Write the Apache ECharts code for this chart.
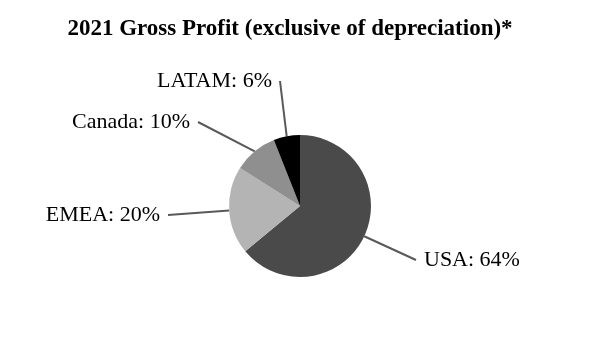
<!DOCTYPE html>
<html>
<head>
<meta charset="utf-8">
<script src="https://cdn.jsdelivr.net/npm/echarts@6/dist/echarts.min.js"></script>
<style>
  html, body { margin: 0; padding: 0; background: #ffffff; }
  #chart { width: 600px; height: 350px; }
</style>
</head>
<body>
<div id="chart"></div>
<script>
// Regional share of 2021 gross profit
const regions = ['USA', 'EMEA', 'Canada', 'LATAM'];
const shares = [64, 20, 10, 6];
const sliceColors = ['#4a4a4a', '#b4b4b4', '#8f8f8f', '#000000'];

// Where each callout label sits (anchor point and text alignment)
const labelSpots = [
  { x: 416, y: 260, align: 'left' },
  { x: 168, y: 215, align: 'right' },
  { x: 198, y: 122, align: 'right' },
  { x: 280, y: 81, align: 'right' }
];
// Radial stub of each leader line before it bends toward its label
const leaderStub = [0, 0, 20, 0];

const chart = echarts.init(document.getElementById('chart'), null, { renderer: 'canvas' });

chart.setOption({
  animation: false,
  backgroundColor: '#ffffff',
  title: {
    text: '2021 Gross Profit (exclusive of depreciation)*',
    left: 285,
    textAlign: 'center',
    top: 13,
    textStyle: {
      fontFamily: 'Liberation Serif',
      fontSize: 23,
      fontWeight: 'bold',
      color: '#000000'
    }
  },
  series: [{
    type: 'pie',
    center: [300, 206],
    radius: 71,
    startAngle: 90,
    clockwise: true,
    data: regions.map((name, i) => ({
      name,
      value: shares[i],
      itemStyle: { color: sliceColors[i] },
      labelLine: { length: leaderStub[i] }
    })),
    label: {
      show: true,
      position: 'outside',
      formatter: p => p.name + ': ' + p.value + '%',
      fontFamily: 'Liberation Serif',
      fontSize: 22,
      color: '#000000',
      backgroundColor: 'rgba(255,255,255,0)',
      padding: [0, 8, 0, 8]
    },
    labelLine: {
      show: true,
      length: 0,
      length2: 0,
      smooth: 0.3,
      lineStyle: { color: '#595959', width: 2 }
    },
    labelLayout: p => {
      const s = labelSpots[p.dataIndex];
      return { x: s.x, y: s.y, align: s.align, verticalAlign: 'middle' };
    },
    emphasis: { disabled: true }
  }]
});
</script>
</body>
</html>
